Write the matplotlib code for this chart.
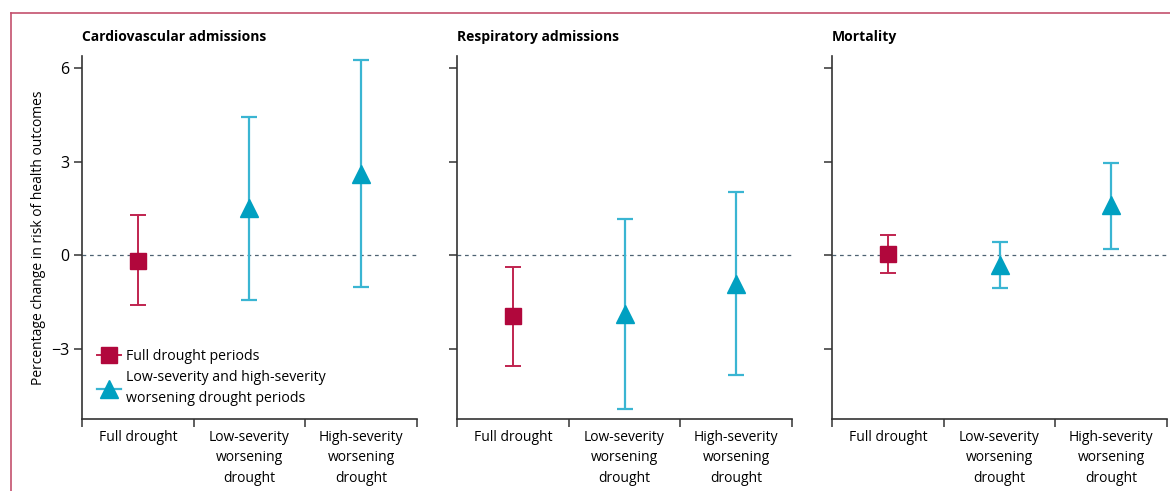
import matplotlib.pyplot as plt
from matplotlib.lines import Line2D
import numpy as np

plt.rcParams['font.family'] = ['Open Sans', 'DejaVu Sans']

panels = ["Cardiovascular admissions", "Respiratory admissions", "Mortality"]
categories = ["Full drought", "Low-severity\nworsening\ndrought", "High-severity\nworsening\ndrought"]

# point estimate, lower and upper bound per panel (full, low-severity, high-severity)
estimate = [[-0.2, 1.5, 2.6], [-1.97, -1.9, -0.92], [0.04, -0.31, 1.62]]
lower = [[-1.6, -1.45, -1.03], [-3.56, -4.93, -3.85], [-0.59, -1.07, 0.19]]
upper = [[1.3, 4.42, 6.27], [-0.37, 1.17, 2.03], [0.66, 0.43, 2.97]]

yticks = [-3, 0, 3, 6]

red = "#b1073c"
red_bar = "#c0244f"
blue = "#00a0c1"
blue_bar = "#3ab5d2"
spine_col = "#333333"

fig = plt.figure(figsize=(11.7, 4.91), dpi=100)
lefts = [82 / 1170, 457 / 1170, 832 / 1170]
width = 335 / 1170
bottom = 1 - 419 / 491
height = (419 - 56) / 491

for i, name in enumerate(panels):
    ax = fig.add_axes([lefts[i], bottom, width, height])
    x = np.arange(len(categories)) + 0.5
    ax.axhline(0, color="#4d6272", lw=0.9, ls=(0, (3, 3)), zorder=1)
    for j in range(len(categories)):
        est = estimate[i][j]
        err = [[est - lower[i][j]], [upper[i][j] - est]]
        if j == 0:
            ax.errorbar(x[j], est, yerr=err, fmt="s", ms=11, color=red,
                        ecolor=red_bar, elinewidth=1.4, capsize=6, capthick=1.4, zorder=3)
        else:
            ax.errorbar(x[j], est, yerr=err, fmt="^", ms=13, color=blue,
                        ecolor=blue_bar, elinewidth=1.6, capsize=6, capthick=1.6, zorder=3)

    ax.set_xlim(0, 3)
    ax.set_ylim(-5.26, 6.39)
    for s in ["top", "right"]:
        ax.spines[s].set_visible(False)
    for s in ["left", "bottom"]:
        ax.spines[s].set_color(spine_col)
        ax.spines[s].set_linewidth(1.2)

    ax.set_yticks(yticks)
    ax.set_xticks([0, 1, 2, 3])
    ax.set_xticklabels([])
    ax.set_xticks(x, minor=True)
    ax.set_xticklabels(categories, minor=True, fontsize=10, linespacing=1.48)
    ax.tick_params(axis="x", which="minor", length=0, pad=8)
    ax.tick_params(axis="both", which="major", direction="out", length=6,
                   width=1.1, color=spine_col, labelsize=11.5, pad=3)
    if i == 0:
        ax.set_yticklabels([u"\u22123", "0", "3", "6"])
        ax.set_ylabel("Percentage change in risk of health outcomes", fontsize=10, labelpad=4)
        handles = [
            Line2D([], [], color=red_bar, marker="s", ms=11, mfc=red, mec=red, lw=1.4),
            Line2D([], [], color=blue_bar, marker="^", ms=13, mfc=blue, mec=blue, lw=1.6),
        ]
        leg = ax.legend(handles, ["Full drought periods",
                                  "Low-severity and high-severity\nworsening drought periods"],
                        loc="lower left", bbox_to_anchor=(0.01, 0.005), frameon=False,
                        fontsize=10.2, handlelength=1.7, handletextpad=0.35,
                        labelspacing=0.45, borderaxespad=0.4)
        for t in leg.get_texts():
            t.set_linespacing(1.5)
    else:
        ax.set_yticklabels([])
    ax.set_title(name, loc="left", fontsize=10, fontweight="bold", pad=11)

# frame lines along the top and left edge
fig.add_artist(Line2D([11 / 1170, 1], [1 - 13 / 491, 1 - 13 / 491], color="#c3506d", lw=1.2))
fig.add_artist(Line2D([11 / 1170, 11 / 1170], [0, 1 - 13 / 491], color="#c3506d", lw=1.2))

fig.savefig("out.png", dpi=100)
